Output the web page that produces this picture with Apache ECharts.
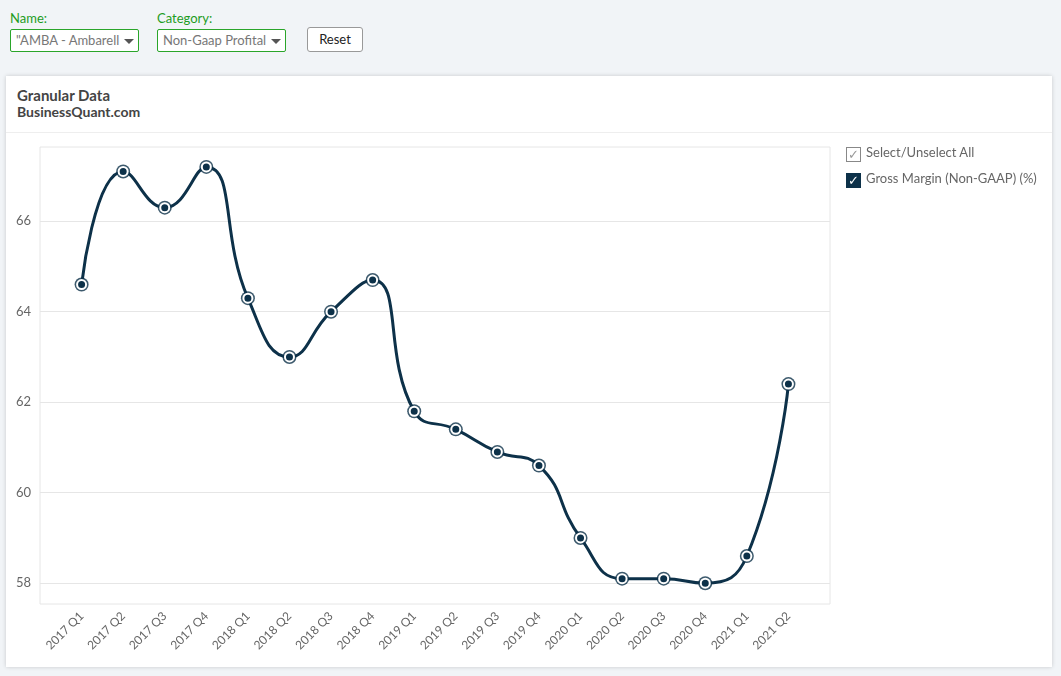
<!DOCTYPE html>
<html>
<head>
<meta charset="utf-8">
<script src="https://cdn.jsdelivr.net/npm/echarts@6/dist/echarts.min.js"></script>
<style>
	body { margin:0; background:#f1f4f7; font-family:Lato, sans-serif; width:1061px; height:676px; overflow:hidden; position:relative; }
	.lbl { position:absolute; color:#1e9c1e; font-size:13px; }
	.sel { position:absolute; height:21px; border:1px solid #2aa52a; border-radius:2px; background:#fff; color:#777; font-size:13px; line-height:21px; padding-left:5px; box-sizing:content-box; white-space:nowrap; overflow:hidden; }
	.sel .arr { position:absolute; right:4px; top:9px; width:0; height:0; border-left:5px solid transparent; border-right:5px solid transparent; border-top:5px solid #555; }
	.btn { position:absolute; left:307px; top:27px; width:54px; height:23px; border:1px solid #999; border-radius:3px; background:#fff; font-size:13px; line-height:23px; text-align:center; color:#222; }
	.card { position:absolute; left:6px; top:76px; width:1046px; height:591px; background:#fff; box-shadow:0 0 4px rgba(0,0,0,0.18); }
	.card .hd { position:absolute; left:11px; top:11px; color:#444; font-weight:bold; line-height:16px; }
	.card .line { position:absolute; left:0; right:0; top:56px; border-top:1px solid #eeeeee; }
	#chart { position:absolute; left:0; top:0; width:1061px; height:676px; }
	.leg { position:absolute; left:846px; font-size:13px; color:#666; line-height:16px; }
	.leg .box { display:inline-block; width:13px; height:13px; vertical-align:-2px; margin-right:5px; text-align:center; font-size:13px; line-height:13px; }
</style>
</head>
<body>
<div class="lbl" style="left:10px;top:10px;">Name:</div>
<div class="sel" style="left:10px;top:29px;width:122px;">"AMBA - Ambarell<span class="arr"></span></div>
<div class="lbl" style="left:157px;top:10px;">Category:</div>
<div class="sel" style="left:157px;top:29px;width:122px;">Non-Gaap Profital<span class="arr"></span></div>
<div class="btn">Reset</div>
<div class="card">
	<div class="hd"><span style="font-size:15px;">Granular Data</span><br><span style="font-size:14px;">BusinessQuant.com</span></div>
	<div class="line"></div>
</div>
<div id="chart"></div>
<div class="leg" style="top:144px;"><span class="box" style="border:1px solid #888;color:#999;">&#10003;</span>Select/Unselect All</div>
<div class="leg" style="top:170px;"><span class="box" style="border:1px solid #0d3149;background:#0d3149;color:#fff;">&#10003;</span>Gross Margin (Non-GAAP) (%)</div>
<script>
var quarters = ['2017 Q1','2017 Q2','2017 Q3','2017 Q4','2018 Q1','2018 Q2','2018 Q3','2018 Q4',
	'2019 Q1','2019 Q2','2019 Q3','2019 Q4','2020 Q1','2020 Q2','2020 Q3','2020 Q4','2021 Q1','2021 Q2'];
var grossMargin = [64.6,67.1,66.3,67.2,64.3,63.0,64.0,64.7,61.8,61.4,60.9,60.6,59.0,58.1,58.1,58.0,58.6,62.4];
var yTicks = [58,60,62,64,66];

var navy = '#0d3149';
var pts = [];
var xTicks = [];
for (var i = 0; i < grossMargin.length; i++) {
	pts.push([i, grossMargin[i]]);
	xTicks.push(i);
}

var myChart = echarts.init(document.getElementById('chart'));
var option = {
	animation : false,
	grid : {
		left : 40, top : 147, right : 231, bottom : 72,
		show : true, borderColor : '#e6e6e6', borderWidth : 1
	},
	xAxis : {
		type : 'value',
		min : -1,
		max : quarters.length,
		axisLine : { show : false },
		axisTick : { show : false },
		splitLine : { show : false },
		axisLabel : {
			customValues : xTicks,
			rotate : 45,
			margin : 10,
			color : '#666',
			fontFamily : 'Lato',
			fontSize : 12,
			formatter : function(v) { return quarters[Math.round(v)]; }
		}
	},
	yAxis : {
		type : 'value',
		min : 57.54,
		max : 67.64,
		axisLine : { show : false },
		axisTick : { show : true, length : 5, customValues : yTicks, lineStyle : { color : '#e6e6e6' } },
		splitLine : { lineStyle : { color : '#e6e6e6' } },
		axisLabel : { customValues : yTicks, color : '#666', fontFamily : 'Lato', fontSize : 13, margin : 9 }
	},
	series : [
		{
			name : 'ring',
			type : 'scatter',
			data : pts,
			symbolSize : 14,
			itemStyle : { color : navy },
			z : 1,
			silent : true
		},
		{
			name : 'Gross Margin (Non-GAAP) (%)',
			type : 'line',
			data : pts,
			smooth : 0.5,
			showAllSymbol : true,
			symbol : 'circle',
			symbolSize : 9,
			lineStyle : { color : navy, width : 3 },
			itemStyle : { color : navy, borderColor : '#fff', borderWidth : 2 },
			z : 3
		}
	]
};
myChart.setOption(option);
</script>
</body>
</html>
